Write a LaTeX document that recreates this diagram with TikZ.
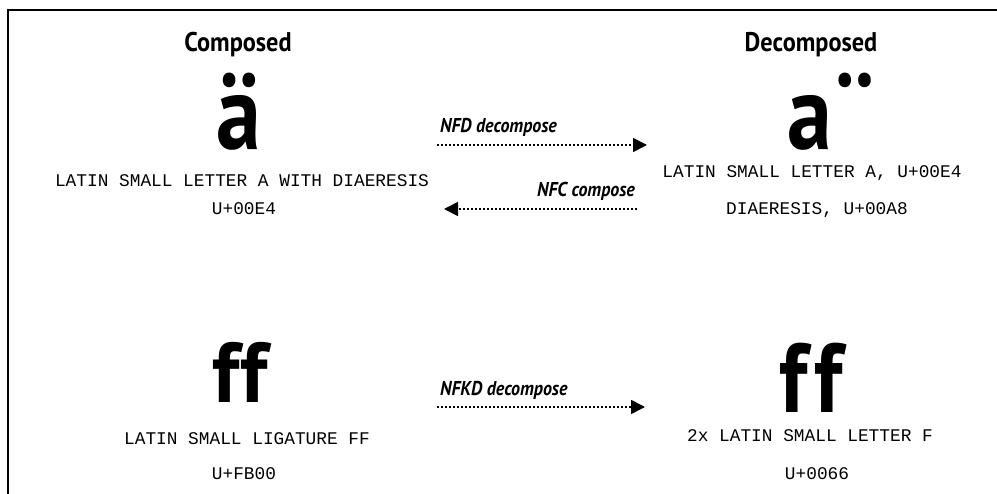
\documentclass[tikz,border=0pt]{standalone}
\usepackage{fontspec}
\usetikzlibrary{arrows.meta}
\newfontfamily\headfont{PT Sans}[FakeStretch=0.9]
\newfontfamily\glyphfont{PT Sans}[FakeStretch=0.85]
\newfontfamily\ligfont{PT Sans}
\newfontfamily\ffont{PT Sans}[FakeStretch=0.9]
\newfontfamily\lblfont{PT Sans}[FakeStretch=0.9]
\newfontfamily\codefont{Liberation Mono}
\tikzset{
  head/.style={font=\headfont\bfseries\fontsize{27}{30}\selectfont, anchor=base, inner sep=0pt},
  glyph/.style={font=\glyphfont\bfseries\fontsize{106}{110}\selectfont, anchor=base, inner sep=0pt, text depth=0pt},
  code/.style={font=\codefont\fontsize{17.8}{20}\selectfont, anchor=base, inner sep=0pt},
  lbl/.style={font=\lblfont\bfseries\itshape\fontsize{20}{22}\selectfont, inner sep=0pt},
  conv/.style={line width=1.7pt, dash pattern=on 1.7pt off 2.3pt, -{Triangle[length=14pt,width=14pt]}},
  frame/.style={line width=2pt}
}
\begin{document}
\begin{tikzpicture}[x=1pt,y=-1pt]
\useasboundingbox (0,0) rectangle (997,494);
\clip (0,0) rectangle (997,494);
\draw[frame] (8,510) -- (8,10) -- (1010,10);
% headers
\node[head] (hc) at (238,52) {Composed};
\node[head] (hd) at (811,52) {Decomposed};
% top row glyphs
\node[glyph] (ga) at (239,150) {ä};
\node[glyph] (gb) at (810,150) {a};
\node[glyph, text height=0pt] (gdia) at (855,150) {¨};
% top row codes
\node[code] (c1) at (242,187) {LATIN SMALL LETTER A WITH DIAERESIS};
\node[code] (c2) at (244,215) {U+00E4};
\node[code] (c3) at (812,178) {LATIN SMALL LETTER A, U+00E4};
\node[code] (c4) at (817,215) {DIAERESIS, U+00A8};
% bottom row
\node[glyph, font=\ligfont\bfseries\fontsize{85}{90}\selectfont] (gff) at (240,403) {ff};
\node[glyph, font=\ffont\bfseries\fontsize{98}{100}\selectfont] (gfg) at (811,413) {f\kern7pt f};
\node[code] (c5) at (247,445) {LATIN SMALL LIGATURE FF};
\node[code] (c6) at (244,480) {U+FB00};
\node[code] (c7) at (810,442) {2x LATIN SMALL LETTER F};
\node[code] (c8) at (817,480) {U+0066};
% arrows
\coordinate (nfdA) at (437,145);
\coordinate (nfdB) at (647,145);
\coordinate (nfcA) at (637,209);
\coordinate (nfcB) at (444,209);
\coordinate (nfkA) at (437,407);
\coordinate (nfkB) at (645,407);
\draw[conv] (nfdA) -- (nfdB);
\draw[conv] (nfcA) -- (nfcB);
\draw[conv] (nfkA) -- (nfkB);
\node[lbl, anchor=base west] (l1) at (440,133) {NFD decompose};
\node[lbl, anchor=base east] (l2) at (635,197) {NFC compose};
\node[lbl, anchor=base west] (l3) at (440,396) {NFKD decompose};
\end{tikzpicture}
\end{document}
